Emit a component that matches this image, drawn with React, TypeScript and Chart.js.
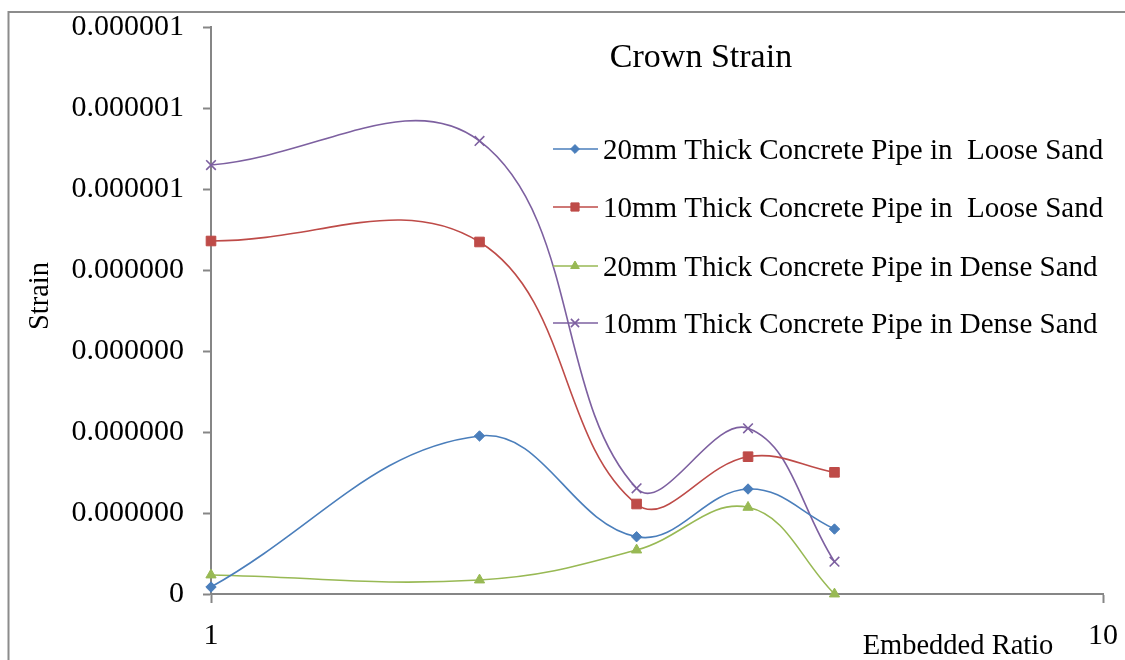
import { useEffect, useRef } from 'react';
import { Chart, registerables } from 'chart.js';
import { drawPoint } from 'chart.js/helpers';

Chart.register(...registerables);

// Embedded ratio (x, log scale) and crown strain for each pipe/soil case
const embeddedRatio = [1, 2, 3, 4, 5];
const loose20mm = [0.086e-7, 1.951e-7, 0.707e-7, 1.296e-7, 0.802e-7];
const loose10mm = [4.358e-7, 4.346e-7, 1.111e-7, 1.695e-7, 1.502e-7];
const dense20mm = [0.235e-7, 0.173e-7, 0.543e-7, 1.07e-7, 0];
const dense10mm = [5.296e-7, 5.593e-7, 1.305e-7, 2.046e-7, 0.399e-7];

const seriesNames = [
  '20mm Thick Concrete Pipe in  Loose Sand',
  '10mm Thick Concrete Pipe in  Loose Sand',
  '20mm Thick Concrete Pipe in Dense Sand',
  '10mm Thick Concrete Pipe in Dense Sand',
];

const strainTicks = [0, 1e-7, 2e-7, 3e-7, 4e-7, 5e-7, 6e-7, 7e-7];
const strainTickLabels = ['0', '0.000000', '0.000000', '0.000000', '0.000000', '0.000001', '0.000001', '0.000001'];
const ratioTicks = [1, 10];

const FONT = '"Liberation Serif", "Times New Roman", serif';
const AXIS_GRAY = '#868686';

const styles = [
  { color: '#4A7EBB', pointStyle: 'rectRot', radius: 5.2 },
  { color: '#BE4B48', pointStyle: 'rect', radius: 6.8 },
  { color: '#98B954', pointStyle: 'triangle', radius: 5.9 },
  { color: '#7D60A0', pointStyle: 'crossRot', radius: 6.8 },
];

const allSeries = [loose20mm, loose10mm, dense20mm, dense10mm];

// plot area edges are fixed by the layout padding, not by tick label overhang
const clearScalePadding = (s: any) => {
  s.paddingTop = 0;
  s.paddingBottom = 0;
  s.paddingLeft = 0;
  s.paddingRight = 0;
};

const decorations = {
  id: 'decorations',
  afterDraw(chart: any) {
    const ctx = chart.ctx as CanvasRenderingContext2D;
    ctx.save();

    // outer frame (left and top edges)
    ctx.strokeStyle = '#8c8c8c';
    ctx.lineWidth = 2;
    ctx.beginPath();
    ctx.moveTo(8.5, 700);
    ctx.lineTo(8.5, 12);
    ctx.lineTo(1200, 12);
    ctx.stroke();

    ctx.fillStyle = '#000';

    // chart title
    ctx.font = `34px ${FONT}`;
    ctx.textAlign = 'center';
    ctx.textBaseline = 'alphabetic';
    ctx.fillText('Crown Strain', 701, 67);

    // axis titles
    ctx.font = `28.5px ${FONT}`;
    ctx.textBaseline = 'middle';
    ctx.fillText('Embedded Ratio', 958, 647);
    ctx.save();
    ctx.translate(41, 296);
    ctx.rotate(-Math.PI / 2);
    ctx.fillText('Strain', 0, 0);
    ctx.restore();

    // legend
    const rowY = [149, 207, 266, 323];
    ctx.textAlign = 'left';
    ctx.textBaseline = 'alphabetic';
    seriesNames.forEach((name, i) => {
      const s = styles[i];
      const y = rowY[i];
      ctx.strokeStyle = s.color;
      ctx.lineWidth = 1.6;
      ctx.beginPath();
      ctx.moveTo(553, y);
      ctx.lineTo(598, y);
      ctx.stroke();
      ctx.fillStyle = s.color;
      ctx.strokeStyle = s.color;
      ctx.lineWidth = s.pointStyle === 'crossRot' ? 1.6 : 1;
      drawPoint(ctx, { pointStyle: s.pointStyle as any, radius: s.radius * 0.85, rotation: 0, borderWidth: ctx.lineWidth }, 575, y);
      ctx.fillStyle = '#000';
      ctx.font = `29px ${FONT}`;
      ctx.fillText(name, 603, y + 9.5);
    });

    ctx.restore();
  },
};

export default function App() {
  const canvasRef = useRef<HTMLCanvasElement | null>(null);

  useEffect(() => {
    if (!canvasRef.current) return;
    const chart = new Chart(canvasRef.current, {
      type: 'line',
      data: {
        datasets: allSeries.map((values, i) => ({
          label: seriesNames[i],
          data: values.map((v, j) => ({ x: embeddedRatio[j], y: v })),
          borderColor: styles[i].color,
          backgroundColor: styles[i].color,
          pointBorderColor: styles[i].color,
          pointBackgroundColor: styles[i].color,
          pointStyle: styles[i].pointStyle as any,
          pointRadius: styles[i].radius,
          pointBorderWidth: styles[i].pointStyle === 'crossRot' ? 1.6 : 1,
          borderWidth: 1.6,
          tension: 0.4,
          fill: false,
          clip: false as any,
        })),
      },
      options: {
        responsive: false,
        animation: false,
        layout: { padding: { left: 0, top: 27, right: 22, bottom: 0 } },
        plugins: {
          legend: { display: false },
          tooltip: { enabled: false },
          title: { display: false },
        },
        scales: {
          x: {
            type: 'logarithmic',
            min: 1,
            max: 10,
            afterBuildTicks: (s: any) => {
              s.ticks = ratioTicks.map((v) => ({ value: v }));
            },
            afterFit: (s: any) => {
              s.height = 66;
              clearScalePadding(s);
            },
            ticks: {
              callback: (v: any) => String(v),
              font: { family: FONT, size: 30 },
              color: '#000',
              padding: 15,
              maxRotation: 0,
              autoSkip: false,
            },
            grid: { drawOnChartArea: false, drawTicks: true, tickLength: 9, tickColor: AXIS_GRAY, tickWidth: 2, color: AXIS_GRAY },
            border: { color: AXIS_GRAY, width: 2 },
          },
          y: {
            type: 'linear',
            min: 0,
            max: 7e-7,
            afterBuildTicks: (s: any) => {
              s.ticks = strainTicks.map((v) => ({ value: v }));
            },
            afterFit: (s: any) => {
              s.width = 211;
              clearScalePadding(s);
            },
            ticks: {
              callback: (_v: any, i: number) => strainTickLabels[i],
              font: { family: FONT, size: 30 },
              color: '#000',
              padding: 19,
              autoSkip: false,
            },
            grid: { drawOnChartArea: false, drawTicks: true, tickLength: 8, tickColor: AXIS_GRAY, tickWidth: 2, color: AXIS_GRAY },
            border: { color: AXIS_GRAY, width: 2 },
          },
        },
      },
      plugins: [decorations],
    });
    return () => chart.destroy();
  }, []);

  return (
    <canvas
      ref={canvasRef}
      width={1125}
      height={660}
      style={{ position: 'absolute', left: 0, top: 0, display: 'block', background: '#fff' }}
    />
  );
}
